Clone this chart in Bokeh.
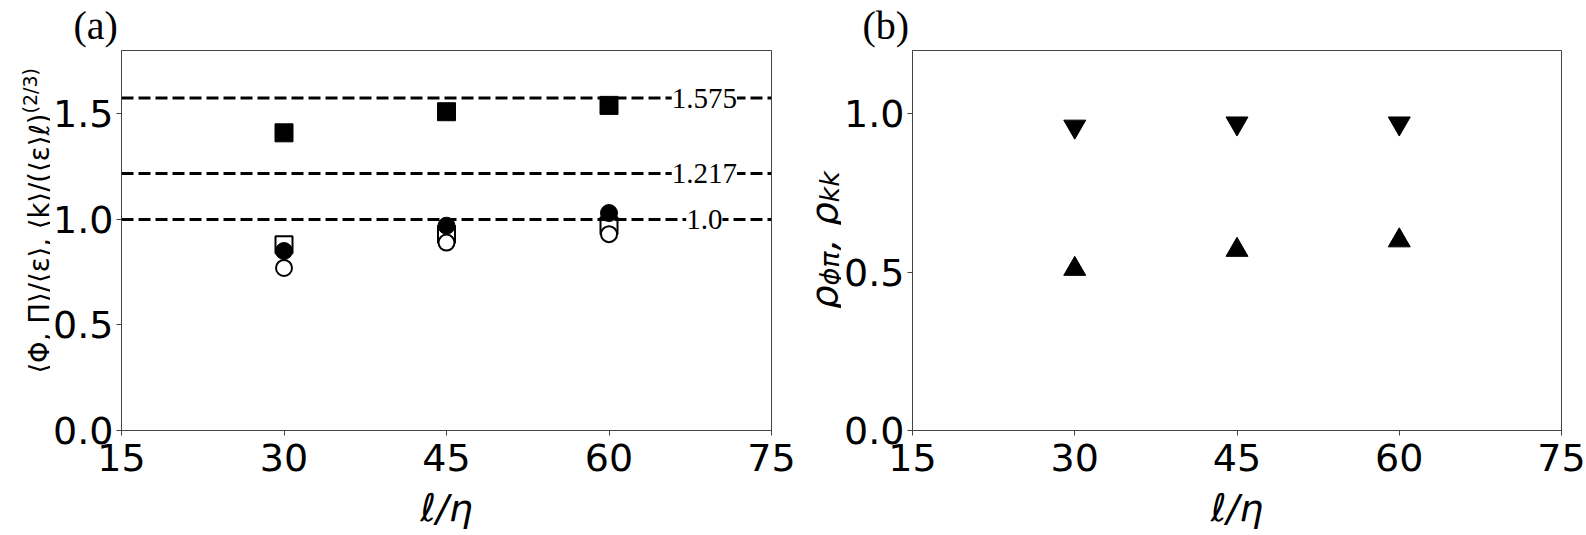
import math
from bokeh.plotting import figure
from bokeh.layouts import row
from bokeh.models import Range1d, FixedTicker, PrintfTickFormatter, Label, Span, Title
from bokeh.embed import file_html
from bokeh.resources import INLINE

# ---------------- data ----------------
ell_eta = [30, 45, 60]
# panel (a)
filled_squares = [1.41, 1.51, 1.54]
open_squares = [0.88, 0.93, 0.97]
filled_circles = [0.85, 0.97, 1.03]
open_circles = [0.77, 0.89, 0.93]
ref_values = [1.575, 1.217, 1.0]
ref_labels = ["1.575", "1.217", "1.0"]
ref_label_x = 68.8
# panel (b)
rho_down = [0.96, 0.97, 0.97]
rho_up = [0.51, 0.57, 0.60]
x_ticks = [15, 30, 45, 60, 75]
ya_ticks = [0.0, 0.5, 1.0, 1.5]
yb_ticks = [0.0, 0.5, 1.0]

H = 535
TOP = 50
FRAME_H = 380
FRAME_BOTTOM = TOP + FRAME_H
SPINE = "#444444"


def make_fig(width, ymax, yticks, bl, br, tag, tag_offset):
    p = figure(width=width, height=H, x_range=Range1d(15, 75), y_range=Range1d(0, ymax),
               output_backend="svg", toolbar_location=None,
               min_border_left=bl, min_border_right=br, min_border_top=TOP,
               min_border_bottom=H - TOP - FRAME_H)
    p.xgrid.visible = False
    p.ygrid.visible = False
    p.outline_line_color = SPINE
    p.outline_line_width = 1
    p.background_fill_color = "white"
    p.border_fill_color = "white"
    p.xaxis.ticker = FixedTicker(ticks=x_ticks)
    p.yaxis.ticker = FixedTicker(ticks=yticks)
    p.yaxis.formatter = PrintfTickFormatter(format="%.1f")
    for ax in (p.xaxis, p.yaxis):
        ax.axis_line_color = SPINE
        ax.major_tick_line_color = SPINE
        ax.minor_tick_line_color = None
        ax.major_tick_in = 0
        ax.major_tick_out = 5
        ax.major_label_text_font = "DejaVu Sans"
        ax.major_label_text_font_size = "38px"
        ax.major_label_text_color = "black"
    p.xaxis.major_label_standoff = 8
    p.yaxis.major_label_standoff = 3
    p.xaxis.axis_label = "ℓ/η"
    p.xaxis.axis_label_text_font = "DejaVu Sans"
    p.xaxis.axis_label_text_font_style = "italic"
    p.xaxis.axis_label_text_font_size = "38px"
    p.xaxis.axis_label_text_color = "black"
    p.xaxis.axis_label_standoff = 12
    p.add_layout(Title(text=tag, align="left", offset=tag_offset, standoff=2,
                       vertical_align="top",
                       text_font="Liberation Serif", text_font_size="40px",
                       text_font_style="normal", text_color="black"), "above")
    return p


def strip(width):
    # narrow helper figure whose frame holds a rotated axis title
    s = figure(width=width, height=H, x_range=Range1d(0, width), y_range=Range1d(0, FRAME_H),
               x_axis_type=None, y_axis_type=None, min_border=0,
               output_backend="svg", toolbar_location=None)
    s.outline_line_color = None
    s.background_fill_color = "white"
    s.border_fill_color = "white"
    return s


def vtext(s, text, x, y_screen, size, style="normal", align="left"):
    s.add_layout(Label(x=x, y=FRAME_BOTTOM - y_screen, text=text, angle=math.pi / 2,
                       text_font="DejaVu Sans", text_font_size=f"{size}px",
                       text_font_style=style, text_align=align,
                       text_baseline="alphabetic", text_color="black"))


# ---------------- y label strip (a) ----------------
sa = strip(50)
vtext(sa, "⟨Φ, Π⟩/⟨ε⟩, ⟨k⟩/(⟨ε⟩ℓ)", 38, 113, 27.5, align="right")
vtext(sa, "(2/3)", 29, 113, 19, align="left")

# ---------------- panel (a) ----------------
pa = make_fig(750, 1.8, ya_ticks, 70, 29, "(a)", -48)
for v in ref_values:
    pa.add_layout(Span(location=v, dimension="width", line_color="black",
                       line_width=3, line_dash="12 5"))
for v, t in zip(ref_values, ref_labels):
    pa.add_layout(Label(x=ref_label_x, y=v, text=t, text_align="center", text_baseline="middle",
                        text_font="Liberation Serif", text_font_size="29px", text_color="black",
                        background_fill_color="white"))

pa.scatter(ell_eta, filled_squares, marker="square", size=18, fill_color="black", line_color="black")
pa.scatter(ell_eta, open_squares, marker="square", size=17, fill_color="white", line_color="black", line_width=2)
pa.scatter(ell_eta, filled_circles, marker="circle", size=17, fill_color="black", line_color="black")
pa.scatter(ell_eta, open_circles, marker="circle", size=16, fill_color="white", line_color="black", line_width=2)

# ---------------- y label strip (b) ----------------
sb = strip(41)
y0 = 309
vtext(sb, "ρ", 23, y0, 38, style="italic")
vtext(sb, "ϕπ", 29, y0 - 24, 27, style="italic")
vtext(sb, ", ρ", 23, y0 - 59, 38, style="italic")
vtext(sb, "kk", 29, y0 - 107, 27, style="italic")

# ---------------- panel (b) ----------------
pb = make_fig(745, 1.2, yb_ticks, 69, 25, "(b)", -50)
pb.scatter(ell_eta, rho_down, marker="inverted_triangle", size=22, fill_color="black", line_color="black")
pb.scatter(ell_eta, rho_up, marker="triangle", size=22, fill_color="black", line_color="black")

layout = row(sa, pa, sb, pb)
open("out.html", "w").write(file_html(layout, INLINE))
